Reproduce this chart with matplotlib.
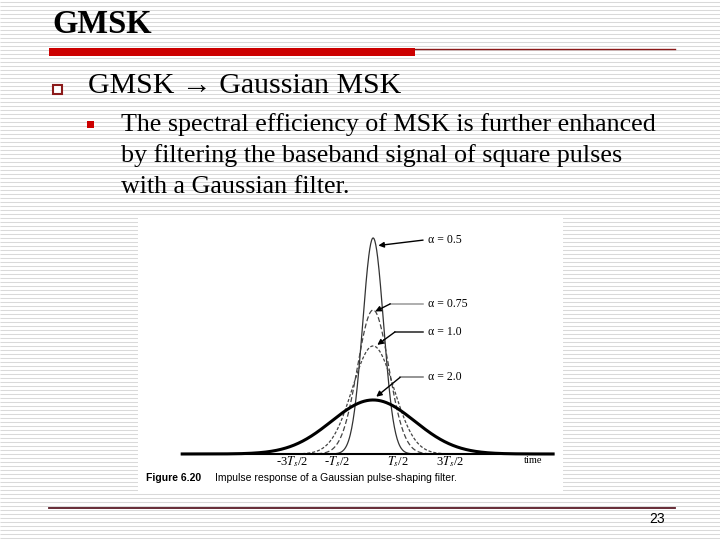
import numpy as np
import matplotlib.pyplot as plt
from matplotlib.patches import Rectangle

# filter parameters shown in the figure
alphas = [0.5, 0.75, 1.0, 2.0]
alpha_labels = ["\u03b1 = 0.5", "\u03b1 = 0.75", "\u03b1 = 1.0", "\u03b1 = 2.0"]
spread = 0.4  # gaussian std per unit alpha, in Ts
t_range = (-3.67, 3.46)

tick_labels = [r"-3$T_s$/2", r"-$T_s$/2", r"$T_s$/2", r"3$T_s$/2"]
tick_pos = [-1.55, -0.69, 0.48, 1.48]

bullet_lines = ["The spectral efficiency of MSK is further enhanced",
                "by filtering the baseband signal of square pulses",
                "with a Gaussian filter."]

serif = ["Liberation Serif", "DejaVu Serif"]
sans = ["Liberation Sans", "DejaVu Sans"]
plt.rcParams["mathtext.fontset"] = "stix"

fig = plt.figure(figsize=(7.2, 5.4), dpi=100)

# slide background in pixel coordinates
bg = fig.add_axes([0, 0, 1, 1])
bg.set_xlim(0, 720)
bg.set_ylim(540, 0)
bg.axis("off")
bg.hlines(np.arange(2, 540, 4), 0, 720, color="#d9d9d9", lw=0.75, zorder=0)

bg.text(52, 33, "GMSK", family=serif, fontsize=23.5, fontweight="bold", va="baseline")
bg.add_patch(Rectangle((49, 48), 366, 8, fc="#cc0000", ec="none", zorder=2))
bg.plot([415, 675], [48.5, 48.5], color="#8b1a1a", lw=1, zorder=2)

bg.add_patch(Rectangle((52.5, 84.5), 9, 9, fc="white", ec="#8b1a1a", lw=1.5, zorder=2))
bg.text(88, 93, "GMSK \u2192 Gaussian MSK", family=serif, fontsize=21.5, va="baseline")

bg.add_patch(Rectangle((87, 121), 7, 7, fc="#cc0000", ec="none", zorder=2))
for i, line in enumerate(bullet_lines):
    bg.text(121, 131 + 31 * i, line, family=serif, fontsize=18.7, va="baseline")

bg.plot([49, 675], [508, 508], color="#5a1a25", lw=1.3, zorder=2)
bg.text(657, 519, "23", family=sans, fontsize=10, ha="center", va="center")

# white picture box
bg.add_patch(Rectangle((138, 217), 425, 275, fc="white", ec="none", zorder=2))
bg.text(146, 478, "Figure 6.20", family=sans, fontsize=7.5, fontweight="bold",
        va="center", zorder=3)
bg.text(215, 478, "Impulse response of a Gaussian pulse-shaping filter.",
        family=sans, fontsize=7.5, va="center", zorder=3)

# chart
ax = fig.add_axes([138 / 720, 48 / 540, 425 / 720, 275 / 540])
ax.patch.set_alpha(0)
ax.axis("off")
ax.set_xlim(-4.52, 3.65)
ax.set_ylim(-0.352, 2.194)

t = np.linspace(t_range[0], t_range[1], 800)
line_styles = [dict(color="#333333", lw=0.9, ls="-"),
               dict(color="#444444", lw=0.9, ls=(0, (4, 2))),
               dict(color="#444444", lw=0.9, ls=(0, (2.5, 1.5))),
               dict(color="black", lw=2.2, ls="-")]
for a, st in zip(alphas, line_styles):
    sigma = spread * a
    h = np.exp(-t ** 2 / (2 * sigma ** 2)) / a
    ax.plot(t, h, **st)

ax.plot(t_range, [0, 0], color="black", lw=1.5)

for p, lab in zip(tick_pos, tick_labels):
    ax.text(p, -0.07, lab, family=serif, fontsize=9, ha="center", va="center")
ax.text(3.08, -0.06, "time", family=serif, fontsize=7.5, ha="center", va="center")

# labels with leader arrows
label_y = [1.98, 1.39, 1.13, 0.71]
elbow_x = [0.96, 0.33, 0.42, 0.52]
targets = [(0.1, 1.93), (0.04, 1.32), (0.08, 1.01), (0.06, 0.53)]
lead_colors = ["black", "#999999", "#222222", "#777777"]
for lab, y, ex, tg, c in zip(alpha_labels, label_y, elbow_x, targets, lead_colors):
    ax.text(1.06, y, lab, family=serif, fontsize=8.5, va="center")
    ax.plot([0.96, ex], [y, y], color=c, lw=1.1)
    ax.annotate("", xy=tg, xytext=(ex, y),
                arrowprops=dict(arrowstyle="-|>", color="black", lw=1,
                                mutation_scale=8, shrinkA=0, shrinkB=0))

fig.savefig("out.png", dpi=100)
